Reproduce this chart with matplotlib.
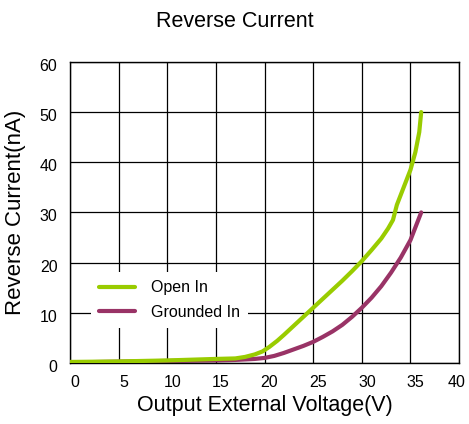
import matplotlib
matplotlib.use("Agg")
import matplotlib.pyplot as plt
from matplotlib.transforms import ScaledTranslation

plt.rcParams["font.family"] = ["Liberation Sans", "DejaVu Sans"]

# Open In curve (V, nA)
open_v = [0, 5, 10, 15, 17, 18, 19, 19.8, 20.5, 21.3, 22, 23, 24, 25, 26, 27, 28,
          29, 30, 31, 32, 32.7, 33.2, 33.6, 34.2, 35, 35.5, 35.9, 36.1]
open_i = [0.2, 0.3, 0.5, 0.8, 0.9, 1.2, 1.7, 2.3, 3.2, 4.4, 5.6, 7.4, 9.2, 11.0,
          12.8, 14.6, 16.4, 18.3, 20.3, 22.5, 24.8, 26.8, 28.5, 31.5, 34.5, 38.5,
          42.0, 46.0, 50.0]

# Grounded In curve (V, nA)
gnd_v = [0, 10, 15, 17, 19, 20, 21, 22, 23, 24, 25, 26, 27, 28, 29, 30, 31, 32,
         33, 34, 35, 35.5, 36.1]
gnd_i = [0.1, 0.4, 0.5, 0.6, 0.8, 1.0, 1.4, 2.0, 2.7, 3.4, 4.2, 5.2, 6.3, 7.6,
         9.2, 11.0, 13.0, 15.3, 18.0, 21.0, 24.5, 27.0, 30.0]

x_ticks = [0, 5, 10, 15, 20, 25, 30, 35, 40]
y_ticks = [0, 10, 20, 30, 40, 50, 60]

fig = plt.figure(figsize=(4.69, 4.24), dpi=100)
ax = fig.add_axes([0.149, 0.144, 0.830, 0.710])

ax.plot(open_v, open_i, color="#99CC00", lw=3, solid_capstyle="round",
        solid_joinstyle="round", label="Open In", zorder=3)
ax.plot(gnd_v, gnd_i, color="#993366", lw=3, solid_capstyle="round",
        solid_joinstyle="round", label="Grounded In", zorder=2)

ax.set_xlim(0, 40)
ax.set_ylim(0, 60)
ax.set_xticks(x_ticks)
ax.set_yticks(y_ticks)
ax.tick_params(length=0, labelsize=11.5)
ax.tick_params(axis="x", pad=9)
ax.tick_params(axis="y", pad=9)
ax.grid(True, color="black", lw=0.9)
ax.set_axisbelow(True)
for s in ax.spines.values():
    s.set_color("black")
    s.set_linewidth(1)

# labels in the reference sit a little right / below their gridlines
xlabs = ax.get_xticklabels()
for i, lab in enumerate(xlabs):
    dx = -3 if i == len(xlabs) - 1 else 5
    lab.set_transform(lab.get_transform() + ScaledTranslation(dx / 100, 0, fig.dpi_scale_trans))
for lab in ax.get_yticklabels():
    lab.set_transform(lab.get_transform() + ScaledTranslation(0, -3 / 100, fig.dpi_scale_trans))

ax.set_xlabel("Output External Voltage(V)", fontsize=15.5, labelpad=3)
ax.set_ylabel("Reverse Current(nA)", fontsize=16, labelpad=10)
fig.suptitle("Reverse Current", fontsize=15.5, y=0.975)

leg = ax.legend(loc="lower left", bbox_to_anchor=(0.035, 0.09), frameon=True,
                fancybox=False, edgecolor="white", framealpha=1,
                fontsize=11.5, handlelength=2.2, handletextpad=1.0,
                borderpad=0.5, labelspacing=0.6)
leg.get_frame().set_linewidth(0)

fig.savefig("out.png", dpi=100)
